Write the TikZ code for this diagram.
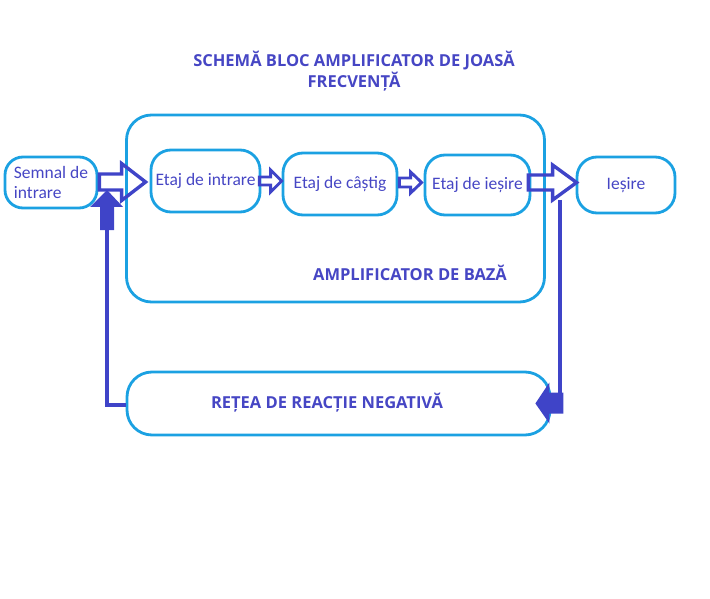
\documentclass[tikz,border=0pt]{standalone}
\usepackage{fontspec}
\setmainfont{Carlito}
\newfontfamily\boldlab{Open Sans}
\usetikzlibrary{calc}
\definecolor{boxcyan}{RGB}{27,161,226}
\definecolor{arrblue}{RGB}{63,68,200}
\definecolor{txtblue}{RGB}{70,70,196}
\tikzset{
  rbox/.style={draw=boxcyan, line width=2.8pt, rounded corners=20pt, inner sep=0pt, text=txtblue, font=\fontsize{17.5}{20}\selectfont},
  boldtxt/.style={text=txtblue, inner sep=0pt, font=\boldlab\bfseries\fontsize{16.5}{21}\selectfont, align=center},
  hollowarr/.style={draw=arrblue, line width=3.4pt, line join=miter},
  fillarr/.style={fill=arrblue, draw=none},
  fbline/.style={draw=arrblue, line width=3.2pt}
}
\newcommand\harrow[6]{%
  \draw[#6] let \p1=(#1), \p2=(#2) in
    (\x1,\y1+#3pt) -- (\x2-#5pt,\y1+#3pt) -- (\x2-#5pt,\y1+#4pt) -- (\x2,\y1)
    -- (\x2-#5pt,\y1-#4pt) -- (\x2-#5pt,\y1-#3pt) -- (\x1,\y1-#3pt) -- cycle;}
\begin{document}
\begin{tikzpicture}[x=1pt,y=-1pt]
\useasboundingbox (0,0) rectangle (710,599);
% title
\node[boldtxt] (title) at (354,71) {SCHEMĂ BLOC AMPLIFICATOR DE JOASĂ\\FRECVENȚĂ};
% big box
\node[rbox, rounded corners=25pt, minimum width=418pt, minimum height=187pt] (amp) at (335.5,208.5) {};
\node[boldtxt] (amplab) at (410,273) {AMPLIFICATOR DE BAZĂ};
% stage boxes
\node[rbox, rounded corners=18pt, minimum width=92pt, minimum height=51pt, align=left] (sem) at (51,182.5) {Semnal de\\intrare};
\node[rbox, minimum width=109pt, minimum height=62pt] (ei) at (205.5,181) {Etaj de intrare};
\node[rbox, minimum width=114pt, minimum height=62pt] (ec) at (340,184) {\raisebox{3pt}{Etaj de câștig}};
\node[rbox, minimum width=105pt, minimum height=60pt] (ee) at (477.5,185) {Etaj de ieșire};
\node[rbox, minimum width=98pt, minimum height=56pt] (ies) at (626,185) {\raisebox{3pt}{Ieșire}};
% feedback box
\node[rbox, rounded corners=25pt, minimum width=423pt, minimum height=63pt] (rr) at (338.5,403.5) {};
\node[boldtxt] (rrlab) at (327,403) {REȚEA DE REACȚIE NEGATIVĂ};
% forward block arrows
\harrow{$(sem.east)+(1,-0.5)$}{$(ei.west)+(-4,0)$}{8}{18.5}{24}{hollowarr}
\harrow{$(ei.east)+(-2,0)$}{$(ec.west)+(0,0)$}{4}{11}{11}{hollowarr, line width=2.9pt}
\harrow{$(ec.east)+(1,-1.5)$}{$(ee.west)+(-2,0)$}{4.5}{10.5}{11}{hollowarr, line width=2.9pt}
\harrow{$(ee.east)+(-3,-2.5)$}{$(ies.west)+(1,0)$}{7.5}{17.5}{24}{hollowarr}
% feedback path right
\coordinate (fbtop) at (560,200);
\coordinate (fbtip) at ($(rr.east)+(-16,0)$);
\draw[fbline] (fbtop) -- (fbtop |- {$(fbtip)+(0,-10)$});
\fill[arrblue] (fbtip) -- ++(14,-21) -- ++(0,10) -- ++(14,0) -- ++(0,21) -- ++(-14,0) -- ++(0,10) -- cycle;
% feedback path left
\coordinate (fbL) at (107,190);
\draw[fbline] ($(rr.west)+(0,1.5)$) -- (107,405) -- (107,228);
\fill[arrblue] (fbL) -- ++(16,17) -- ++(-9,0) -- ++(0,23) -- ++(-14,0) -- ++(0,-23) -- ++(-10,0) -- cycle;
\end{tikzpicture}
\end{document}
